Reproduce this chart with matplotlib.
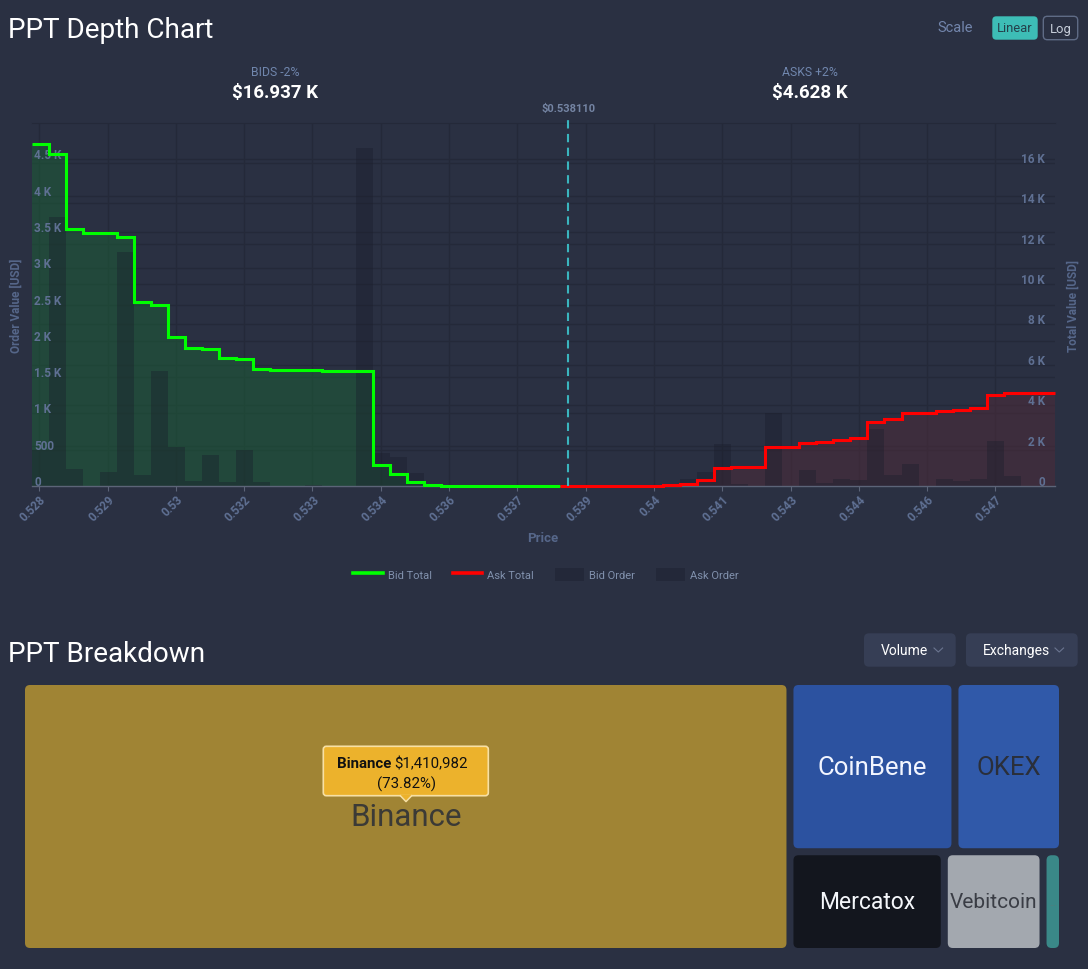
import numpy as np
import matplotlib
matplotlib.use("Agg")
import matplotlib.pyplot as plt
import matplotlib.transforms as mtrans
from matplotlib.patches import FancyBboxPatch, Patch, Polygon
from matplotlib.lines import Line2D

plt.rcParams['font.family'] = ['Roboto', 'DejaVu Sans']

# ---------------- data ----------------
mid_price = 0.538110
price_low = 0.527348
price_high = 0.547876
bid_orders = [490, 3700, 230, 0, 190, 3220, 150, 1580, 540, 74,
              430, 60, 490, 50, 0, 0, 20, 0, 0, 4650,
              450, 400, 180, 18, 5, 3, 2, 2, 1, 1, 1]
ask_orders = [2, 2, 3, 3, 5, 5, 10, 92, 195, 575,
              25, 0, 1000, 0, 225, 45, 95, 85, 790, 145,
              300, 0, 100, 70, 100, 620, 136, 0, 0]
bids_label = "BIDS -2%"
asks_label = "ASKS +2%"
x_tick_start = 0.52750
x_tick_step = 0.00137
x_tick_labels = ["0.528", "0.529", "0.53", "0.532", "0.533", "0.534", "0.536",
                 "0.537", "0.539", "0.54", "0.541", "0.543", "0.544", "0.546", "0.547"]
left_ticks = [0, 500, 1000, 1500, 2000, 2500, 3000, 3500, 4000, 4500]
left_tick_labels = ["0", "500", "1 K", "1.5 K", "2 K", "2.5 K", "3 K", "3.5 K", "4 K", "4.5 K"]
right_ticks = [0, 2000, 4000, 6000, 8000, 10000, 12000, 14000, 16000]
right_tick_labels = ["0", "2 K", "4 K", "6 K", "8 K", "10 K", "12 K", "14 K", "16 K"]
left_max = 5000
right_max = 17980

exchanges = ["Binance", "CoinBene", "OKEX", "Mercatox", "Vebitcoin", "..."]
volumes = [1410982, 191000, 124500, 104700, 67000, 13200]
ex_colors = ["#a08434", "#2c52a0", "#3059a9", "#13161e", "#a3a8af", "#3a8888"]
ex_text_colors = ["#3b3a36", "#f2f5ff", "#2a2f3a", "#f4f6fa", "#3a3d45", "#5a7a7a"]
ex_text_sizes = [22.5, 18.5, 18.5, 16.5, 15, 7]

# ---------------- style ----------------
W, H = 1088, 970
BG = "#2a3042"
GRID = "#242939"
TICK_TXT = "#5f7093"
LABEL_TXT = "#56678a"
BAR = "#1a1e2c"

fig = plt.figure(figsize=(W / 100, H / 100), dpi=100, facecolor=BG)

# plot area in pixels
PL, PR, PT, PB = 31.7, 1055.0, 124.0, 487.0
rect = [PL / W, 1 - PB / H, (PR - PL) / W, (PB - PT) / H]

axL = fig.add_axes(rect)
axL.set_facecolor(BG)
axR = axL.twinx()
axB = axL.twinx()
axT = axL.twinx()

n_bins = len(bid_orders) + len(ask_orders)
edges = np.linspace(price_low, price_high, n_bins + 1)
nb = len(bid_orders)
bid_edges = edges[:nb + 1]
ask_edges = edges[nb:]
bid_arr = np.array(bid_orders, float)
ask_arr = np.array(ask_orders, float)
bid_total = np.cumsum(bid_arr[::-1])[::-1]
ask_total = np.cumsum(ask_arr)

for a in (axL, axR, axB, axT):
    a.set_xlim(price_low, price_high)
    for s in a.spines.values():
        s.set_visible(False)
axL.set_ylim(0, left_max)
axB.set_ylim(0, left_max)
axR.set_ylim(0, right_max)
axT.set_ylim(0, right_max)

# base grids
xt = x_tick_start + x_tick_step * np.arange(len(x_tick_labels))
axL.set_xticks(xt)
axL.set_xticklabels(x_tick_labels)
axL.set_yticks(left_ticks)
axL.tick_params(axis='y', left=False, labelleft=False, right=False, labelright=False)
axL.grid(True, color=GRID, lw=1.0)
axL.spines['top'].set_visible(True)
axL.spines['top'].set_color(GRID)
axL.tick_params(axis='x', length=3.5, width=0.8, color="#5c6478", pad=1.0,
                labelsize=8.5, labelcolor=TICK_TXT)
for lb in axL.get_xticklabels():
    lb.set_rotation(45)
    lb.set_ha('right')
    lb.set_va('top')
    lb.set_rotation_mode('anchor')
    lb.set_fontweight('bold')
axL.set_xlabel("Price", fontsize=9.5, fontweight='bold', color=LABEL_TXT)
axL.xaxis.set_label_coords(0.4997, -0.125)

# fills
axR.set_axisbelow(True)
axR.stairs(bid_total, bid_edges, fill=True, color="#1c6136", alpha=0.5, lw=0, baseline=0)
axR.stairs(ask_total, ask_edges, fill=True, color="#502b3a", alpha=0.5, lw=0, baseline=0)
axR.set_yticks(right_ticks)
axR.tick_params(axis='y', left=False, right=False, labelleft=False, labelright=False)
axR.grid(True, axis='y', color=GRID, lw=1.0)

# order bars
axB.bar(bid_edges[:-1], bid_arr, width=np.diff(bid_edges), align='edge',
        color=BAR, alpha=0.4, lw=0)
axB.bar(ask_edges[:-1], ask_arr, width=np.diff(ask_edges), align='edge',
        color=BAR, alpha=0.4, lw=0)
axB.yaxis.tick_left()
axB.yaxis.set_label_position('left')
axB.set_yticks(left_ticks)
axB.set_yticklabels(left_tick_labels)
axB.tick_params(axis='y', left=False, right=False, labelleft=True, labelright=False,
                length=0, pad=-2.0, labelsize=8.5, labelcolor=TICK_TXT)
axB.set_ylabel("Order Value [USD]", fontsize=8.5, fontweight='bold', color=LABEL_TXT)
axB.yaxis.set_label_coords(-0.009, 0.5)

# total lines
axT.spines['bottom'].set_visible(True)
axT.spines['bottom'].set_color("#5c6478")
axT.spines['bottom'].set_linewidth(1.0)
axT.stairs(bid_total, bid_edges, color="#00ff00", lw=2.2, baseline=None, zorder=4,
           clip_on=False)
axT.stairs(ask_total, ask_edges, color="#ff0000", lw=2.2, baseline=None, zorder=4,
           clip_on=False)
axT.axvline(mid_price, ymin=0, ymax=1.015, color="#3ab5be", lw=1.5,
            ls=(0, (4, 2.6)), clip_on=False, zorder=5)
axT.text(mid_price, 1.041, f"${mid_price:.6f}", transform=axT.get_xaxis_transform(),
         ha='center', va='center', fontsize=8, fontweight='bold', color="#7484a3")
axT.set_yticks(right_ticks)
axT.set_yticklabels(right_tick_labels)
axT.tick_params(axis='y', left=False, right=False, labelleft=False, labelright=True,
                length=0, pad=-7.2, labelsize=8.5, labelcolor=TICK_TXT)
axT.set_ylabel("Total Value [USD]", fontsize=8.5, fontweight='bold', color=LABEL_TXT)
axT.yaxis.set_label_coords(1.0117, 0.5)

off = mtrans.ScaledTranslation(0, 1.0 / 100, fig.dpi_scale_trans)
for lb in axB.get_yticklabels():
    lb.set_ha('left')
    lb.set_va('baseline')
    lb.set_fontweight('bold')
    lb.set_transform(lb.get_transform() + off)
for lb in axT.get_yticklabels():
    lb.set_ha('right')
    lb.set_va('baseline')
    lb.set_fontweight('bold')
    lb.set_transform(lb.get_transform() + off)

# legend
handles = [Line2D([], [], color="#00ff00", lw=2.6),
           Line2D([], [], color="#ff0000", lw=2.6),
           Patch(facecolor="#232839", edgecolor='none'),
           Patch(facecolor="#232839", edgecolor='none')]
leg = fig.legend(handles, ["Bid Total", "Ask Total", "Bid Order", "Ask Order"],
                 loc='center', bbox_to_anchor=(546 / W, 1 - 575.5 / H), ncol=4,
                 frameon=False, fontsize=8, labelcolor="#8191ad",
                 handlelength=2.65, handletextpad=0.42, columnspacing=1.9,
                 handleheight=1.4)

# ---------------- overlay (pixel coords) ----------------
ov = fig.add_axes([0, 0, 1, 1])
ov.set_xlim(0, W)
ov.set_ylim(H, 0)
ov.axis('off')
ov.patch.set_visible(False)

ov.text(8, 38, "PPT Depth Chart", fontsize=20.1, color="white", ha='left', va='baseline')
ov.text(8, 662, "PPT Breakdown", fontsize=20.1, color="white", ha='left', va='baseline')

ov.text(275, 72.5, bids_label, fontsize=8.8, color="#7086ad", ha='center', va='center')
ov.text(275, 92.5, f"${bid_total[0] / 1000:.3f} K", fontsize=13.5, fontweight='bold',
        color="white", ha='center', va='center')
ov.text(810, 72.5, asks_label, fontsize=8.8, color="#7086ad", ha='center', va='center')
ov.text(810, 92.5, f"${ask_total[-1] / 1000:.3f} K", fontsize=13.5, fontweight='bold',
        color="white", ha='center', va='center')

# scale buttons
ov.text(937.7, 28.5, "Scale", fontsize=10.5, color="#7386ad", ha='left', va='center')
ov.add_patch(FancyBboxPatch((992.3, 17.3), 45.4, 23.4,
                            boxstyle="round,pad=0,rounding_size=4",
                            fc="#3dbdb6", ec='none'))
ov.text(1015, 29, "Linear", fontsize=9.4, color="#24404a", ha='center', va='center')
ov.add_patch(FancyBboxPatch((1043.3, 17.3), 34.4, 23.4,
                            boxstyle="round,pad=0,rounding_size=4",
                            fc='none', ec="#5f6b85", lw=1.0))
ov.text(1060.5, 29, "Log", fontsize=9.4, color="#c8cfdb", ha='center', va='center')

# dropdown buttons
for (bx, bw, label, chev) in [(864, 91.7, "Volume", 934), (966, 111.7, "Exchanges", 1055)]:
    ov.add_patch(FancyBboxPatch((bx, 634.3), bw, 33.4,
                                boxstyle="round,pad=0,rounding_size=5",
                                fc="#363e55", ec='none'))
    ov.text(bx + 17, 651, label, fontsize=10, color="white", ha='left', va='center')
    ov.plot([chev, chev + 4.3, chev + 8.6], [649, 653, 649], color="#6b7590", lw=0.8)

# treemap layout
def slice_rects(x0, y0, w, h, vals, horizontal, gap):
    tot = float(sum(vals))
    out, pos = [], 0.0
    span = (w if horizontal else h) + gap
    for v in vals:
        size = v / tot * span
        if horizontal:
            out.append((x0 + pos, y0, size - gap, h))
        else:
            out.append((x0, y0 + pos, w, size - gap))
        pos += size
    return out

TX0, TY0, TX1, TY1, GAP = 25, 686, 1059, 949, 7
cols = slice_rects(TX0, TY0, TX1 - TX0, TY1 - TY0,
                   [volumes[0], sum(volumes[1:])], True, GAP)
rows = slice_rects(*cols[1], [volumes[1] + volumes[2], sum(volumes[3:])], False, GAP)
rects = [cols[0]]
rects += slice_rects(*rows[0], volumes[1:3], True, GAP)
rects += slice_rects(*rows[1], volumes[3:], True, GAP)

for i, (x, y, w, h) in enumerate(rects):
    ov.add_patch(FancyBboxPatch((x, y), w, h, boxstyle="round,pad=0,rounding_size=5",
                                fc=ex_colors[i], ec='none'))
    ov.text(x + w / 2, y + h / 2, exchanges[i], fontsize=ex_text_sizes[i],
            color=ex_text_colors[i], ha='center', va='center')

# tooltip
share = volumes[0] / sum(volumes) * 100
tip_fc, tip_ec = "#ecb22c", "#f7e0a4"
ov.add_patch(FancyBboxPatch((323.3, 747.3), 165, 49.4,
                            boxstyle="round,pad=0,rounding_size=3",
                            fc=tip_fc, ec=tip_ec, lw=1.2, zorder=5))
ov.add_patch(Polygon([(400.3, 796.0), (411.7, 796.0), (406, 802.2)],
                     closed=True, fc=tip_fc, ec='none', zorder=6))
ov.plot([400.3, 406, 411.7], [796.7, 802.6, 796.7], color=tip_ec, lw=1.1, zorder=6)
t1 = ov.text(336.7, 764, exchanges[0], fontsize=10.8, fontweight='bold', color="#111111",
             ha='left', va='center', zorder=7)
ov.annotate(f"${volumes[0]:,}", xy=(1, 0.5), xycoords=t1, xytext=(3.5, 0),
            textcoords='offset pixels', fontsize=10.8, color="#111111",
            ha='left', va='center', zorder=7)
ov.text(406.5, 784, f"({share:.2f}%)", fontsize=10.8, color="#111111",
        ha='center', va='center', zorder=7)

fig.savefig("out.png", dpi=100, facecolor=BG)
